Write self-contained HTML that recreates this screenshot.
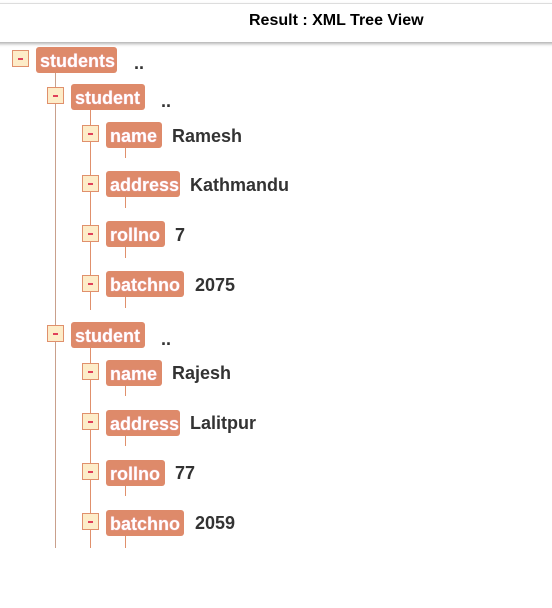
<!DOCTYPE html>
<html><head><meta charset="utf-8"><style>
body{margin:0;width:552px;height:608px;background:#fff;position:relative;overflow:hidden;font-family:"Liberation Sans",Arial,sans-serif}
.hdr{position:absolute;left:-5px;top:3px;width:570px;height:38px;border-top:1px solid #ddd;box-shadow:0 2px 3px rgba(0,0,0,.3);background:#fff}
.title{position:absolute;left:249px;top:12px;font-weight:bold;font-size:16px;color:#000}
.tg{position:absolute;width:15px;height:15px;border:1px solid #e0906c;background:#fdecc8;box-sizing:content-box}
.tg:after{content:"";position:absolute;left:5px;top:7px;width:5px;height:2px;background:#e0405a}
.lb{position:absolute;height:26px;line-height:28px;background:#de8a6a;border-radius:3px;color:#fff;font-weight:bold;font-size:18px;padding:0 4px;box-sizing:border-box;text-shadow:0 0 1px #fbe}
.v{position:absolute;font-weight:bold;font-size:18px;color:#333;line-height:28px}
.ln{position:absolute;width:1px;background:#e0906c}
</style></head><body>
<div class="hdr"></div>
<div class="title">Result : XML Tree View</div>

<div class="ln" style="left:55px;top:72px;height:476px;background:#c9a08c"></div>
<div class="ln" style="left:90px;top:110px;height:200px"></div>
<div class="ln" style="left:90px;top:348px;height:200px"></div>

<div class="tg" style="left:12px;top:50px"></div>
<div class="lb" style="left:36px;top:47px;width:81px">students</div>
<div class="v" style="left:134px;top:49px">..</div>

<div class="tg" style="left:47px;top:87px"></div>
<div class="lb" style="left:71px;top:84px;width:74px">student</div>
<div class="v" style="left:161px;top:87px">..</div>

<div class="tg" style="left:82px;top:125px"></div>
<div class="lb" style="left:106px;top:122px;width:56px">name</div>
<div class="ln" style="left:125px;top:148px;height:10px"></div>
<div class="v" style="left:172px;top:122px">Ramesh</div>

<div class="tg" style="left:82px;top:175px"></div>
<div class="lb" style="left:106px;top:171px;width:74px">address</div>
<div class="ln" style="left:125px;top:197px;height:11px"></div>
<div class="v" style="left:190px;top:171px">Kathmandu</div>

<div class="tg" style="left:82px;top:225px"></div>
<div class="lb" style="left:106px;top:221px;width:59px">rollno</div>
<div class="ln" style="left:125px;top:247px;height:11px"></div>
<div class="v" style="left:175px;top:221px">7</div>

<div class="tg" style="left:82px;top:275px"></div>
<div class="lb" style="left:106px;top:271px;width:78px">batchno</div>
<div class="ln" style="left:125px;top:297px;height:11px"></div>
<div class="v" style="left:195px;top:271px">2075</div>

<div class="tg" style="left:47px;top:325px"></div>
<div class="lb" style="left:71px;top:322px;width:74px">student</div>
<div class="v" style="left:161px;top:325px">..</div>

<div class="tg" style="left:82px;top:363px"></div>
<div class="lb" style="left:106px;top:360px;width:56px">name</div>
<div class="ln" style="left:125px;top:386px;height:10px"></div>
<div class="v" style="left:172px;top:359px">Rajesh</div>

<div class="tg" style="left:82px;top:413px"></div>
<div class="lb" style="left:106px;top:410px;width:74px">address</div>
<div class="ln" style="left:125px;top:436px;height:10px"></div>
<div class="v" style="left:190px;top:409px">Lalitpur</div>

<div class="tg" style="left:82px;top:463px"></div>
<div class="lb" style="left:106px;top:460px;width:59px">rollno</div>
<div class="ln" style="left:125px;top:486px;height:10px"></div>
<div class="v" style="left:175px;top:459px">77</div>

<div class="tg" style="left:82px;top:513px"></div>
<div class="lb" style="left:106px;top:510px;width:78px">batchno</div>
<div class="ln" style="left:125px;top:536px;height:12px"></div>
<div class="v" style="left:195px;top:509px">2059</div>
</body></html>
